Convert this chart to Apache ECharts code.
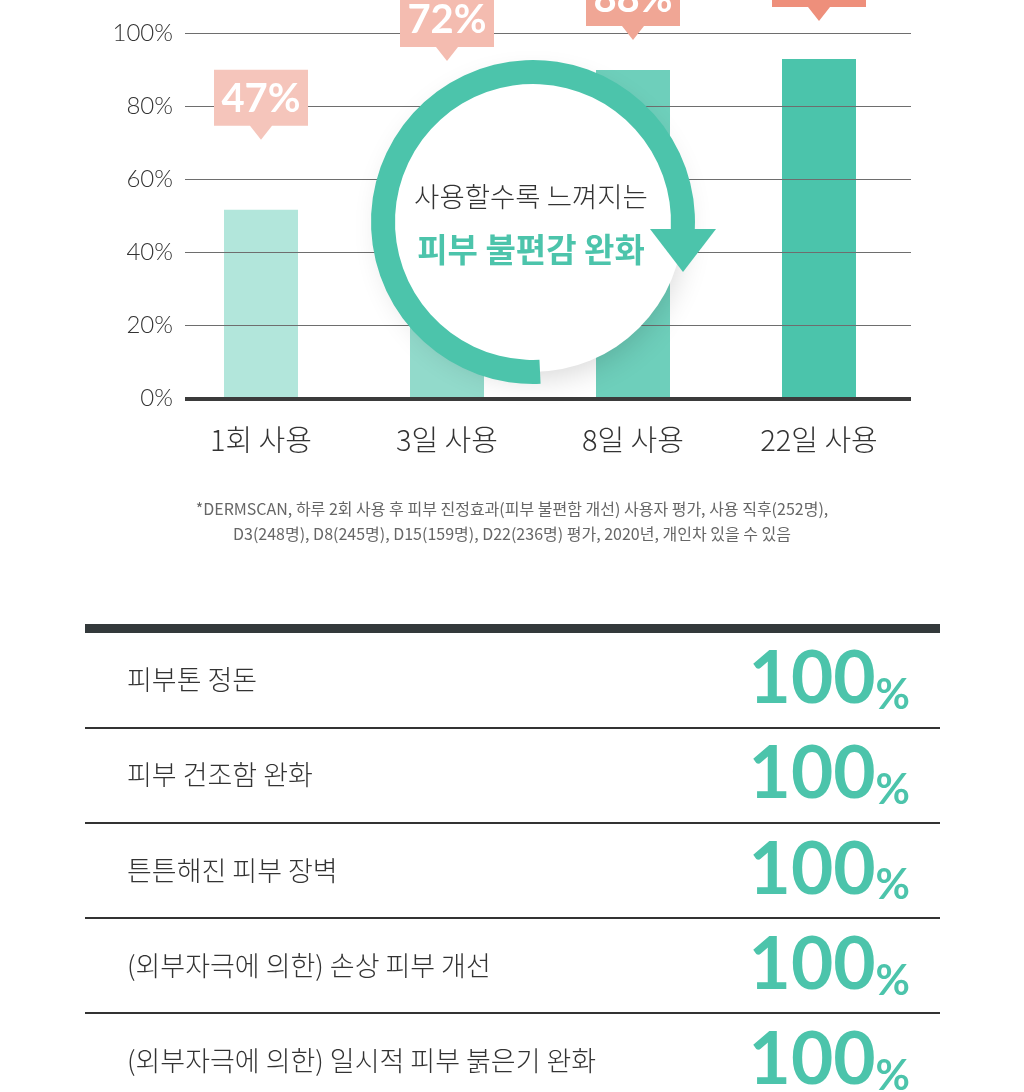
<!DOCTYPE html>
<html>
<head>
<meta charset="utf-8">
<script src="https://cdn.jsdelivr.net/npm/echarts@6/dist/echarts.min.js"></script>
<style>
  html, body { margin: 0; padding: 0; background: #ffffff; }
  #chart { width: 1024px; height: 1092px; }
</style>
</head>
<body>
<div id="chart"></div>
<script>
// ---- data ----
const categories = ['1회 사용', '3일 사용', '8일 사용', '22일 사용'];
const barValues = [51.7, 76, 90, 93];
const bubbleLabels = ['47%', '72%', '88%', '93%'];
const yTickMin = 0, yTickMax = 100, yTickStep = 20;
const rowLabels = [
  '피부톤 정돈',
  '피부 건조함 완화',
  '튼튼해진 피부 장벽',
  '(외부자극에 의한) 손상 피부 개선',
  '(외부자극에 의한) 일시적 피부 붉은기 완화'
];
const rowValues = [100, 100, 100, 100, 100];
const footnoteLines = [
  '*DERMSCAN, 하루 2회 사용 후 피부 진정효과(피부 불편함 개선) 사용자 평가, 사용 직후(252명),',
  'D3(248명), D8(245명), D15(159명), D22(236명) 평가, 2020년, 개인차 있을 수 있음'
];
const centerTitle = '사용할수록 느껴지는';
const centerSubtitle = '피부 불편감 완화';

// ---- styles ----
const barColors = ['#b2e6db', '#92dacb', '#6ecfbb', '#4bc4ab'];
const bubbleColors = ['#f5c5bb', '#f4bcb0', '#f0a695', '#ee8f7b'];
const bubbleGaps = [70, 60, 30, 38];
const TEAL = '#4cc4ab';
const KR = '"Noto Sans CJK KR", "Noto Sans", sans-serif';
const LAT = 'Lato, "Noto Sans", sans-serif';

const chart = echarts.init(document.getElementById('chart'), null, { renderer: 'canvas' });

const ringCx = 533, ringCy = 222;

const option = {
  backgroundColor: '#ffffff',
  animation: false,
  grid: [
    { left: 168, right: 112, top: 33.5, height: 365, outerBoundsMode: 'none' },   // bars
    { left: 185, right: 113, top: 33.5, height: 365, outerBoundsMode: 'none' },   // gridlines + y labels
    { left: 85, right: 84, top: 632, height: 476.5, outerBoundsMode: 'none' }     // table
  ],
  xAxis: [
    {
      gridIndex: 0, type: 'category', data: categories,
      axisLine: { show: false }, axisTick: { show: false },
      axisLabel: { color: '#333', fontFamily: KR, fontSize: 29, fontWeight: 300, margin: 26, lineHeight: 30 }
    },
    {
      gridIndex: 1, type: 'value', min: 0, max: 1, z: 6,
      axisLine: { show: true, onZero: false, lineStyle: { color: '#3b3b3b', width: 4, cap: 'butt' } },
      axisTick: { show: false }, axisLabel: { show: false }, splitLine: { show: false }
    },
    {
      gridIndex: 2, type: 'value', min: 0, max: 100, position: 'top', offset: 3.5,
      axisLine: { show: true, lineStyle: { color: '#33393b', width: 9, cap: 'butt' } },
      axisTick: { show: false }, axisLabel: { show: false }, splitLine: { show: false }
    }
  ],
  yAxis: [
    { gridIndex: 0, type: 'value', min: yTickMin, max: yTickMax, show: false },
    {
      gridIndex: 1, type: 'value', min: yTickMin, max: yTickMax, interval: yTickStep, z: 3,
      axisLine: { show: false }, axisTick: { show: false },
      axisLabel: { formatter: '{value}%', color: '#333', fontFamily: LAT, fontWeight: 300, fontSize: 24, margin: 12 },
      splitLine: { show: true, lineStyle: { color: '#6e6e6e', width: 1 } }
    },
    {
      gridIndex: 2, type: 'category', data: rowLabels, inverse: true,
      axisLine: { show: false }, axisTick: { show: false },
      axisLabel: { inside: true, align: 'left', margin: 42, color: '#333', fontFamily: KR, fontSize: 27, fontWeight: 300 },
      splitLine: { show: true, interval: 0, lineStyle: { color: '#333', width: 2 } }
    }
  ],
  series: [
    {
      type: 'bar', xAxisIndex: 0, yAxisIndex: 0, barWidth: 74, z: 2,
      data: barValues.map((v, i) => ({ value: v, itemStyle: { color: barColors[i] } }))
    },
    {
      type: 'custom', xAxisIndex: 0, yAxisIndex: 0, z: 5,
      data: barValues.map((v, i) => [i, v, bubbleLabels[i]]),
      renderItem: function (params, api) {
        const i = params.dataIndex;
        const p = api.coord([api.value(0), api.value(1)]);
        const x = p[0];
        const tip = p[1] - bubbleGaps[i];
        const bottom = tip - 14;
        const top = bottom - 56;
        const hw = 47;
        return {
          type: 'group',
          children: [
            {
              type: 'polygon',
              shape: { points: [[x - hw, top], [x + hw, top], [x + hw, bottom], [x + 11, bottom], [x, tip], [x - 11, bottom], [x - hw, bottom]] },
              style: { fill: bubbleColors[i] }
            },
            {
              type: 'text',
              style: {
                text: bubbleLabels[i], x: x, y: (top + bottom) / 2 + 1,
                align: 'center', verticalAlign: 'middle',
                fill: '#ffffff', fontFamily: LAT, fontWeight: 'bold', fontSize: 40
              }
            }
          ]
        };
      }
    },
    {
      type: 'bar', xAxisIndex: 2, yAxisIndex: 2, barWidth: 60,
      data: rowValues,
      itemStyle: { color: 'rgba(0,0,0,0)' },
      label: {
        show: true, position: 'insideRight', distance: 30,
        formatter: function (p) { return '{num|' + p.value + '}{pct|%}'; },
        rich: {
          num: { color: TEAL, fontFamily: LAT, fontWeight: 'bold', fontSize: 73, lineHeight: 73, verticalAlign: 'bottom' },
          pct: { color: TEAL, fontFamily: LAT, fontWeight: 'bold', fontSize: 42, lineHeight: 55, verticalAlign: 'bottom' }
        }
      }
    }
  ],
  graphic: [
    {
      type: 'circle', z: 100,
      shape: { cx: ringCx, cy: ringCy, r: 150 },
      style: { fill: '#ffffff', shadowBlur: 30, shadowColor: 'rgba(0,0,0,0.16)', shadowOffsetY: 6 }
    },
    {
      type: 'sector', z: 101,
      shape: { cx: ringCx, cy: ringCy, r0: 138, r: 162, startAngle: 1.524, endAngle: Math.PI * 2 + 0.05, clockwise: true },
      style: { fill: TEAL }
    },
    {
      type: 'polygon', z: 101,
      shape: { points: [[ringCx + 117, 229], [ringCx + 183, 229], [ringCx + 150, 272]] },
      style: { fill: TEAL }
    },
    {
      type: 'text', z: 102,
      style: { text: centerTitle, x: 531, y: 197, align: 'center', verticalAlign: 'middle', fill: '#333', fontFamily: KR, fontSize: 27.5, fontWeight: 300 }
    },
    {
      type: 'text', z: 102,
      style: { text: centerSubtitle, x: 531, y: 249, align: 'center', verticalAlign: 'middle', fill: TEAL, fontFamily: KR, fontSize: 33, fontWeight: 'bold' }
    },
    {
      type: 'text', z: 102,
      style: { text: footnoteLines[0], x: 512, y: 509, align: 'center', verticalAlign: 'middle', fill: '#666', fontFamily: KR, fontSize: 16 }
    },
    {
      type: 'text', z: 102,
      style: { text: footnoteLines[1], x: 512, y: 534, align: 'center', verticalAlign: 'middle', fill: '#666', fontFamily: KR, fontSize: 16 }
    }
  ]
};

chart.setOption(option);
</script>
</body>
</html>
